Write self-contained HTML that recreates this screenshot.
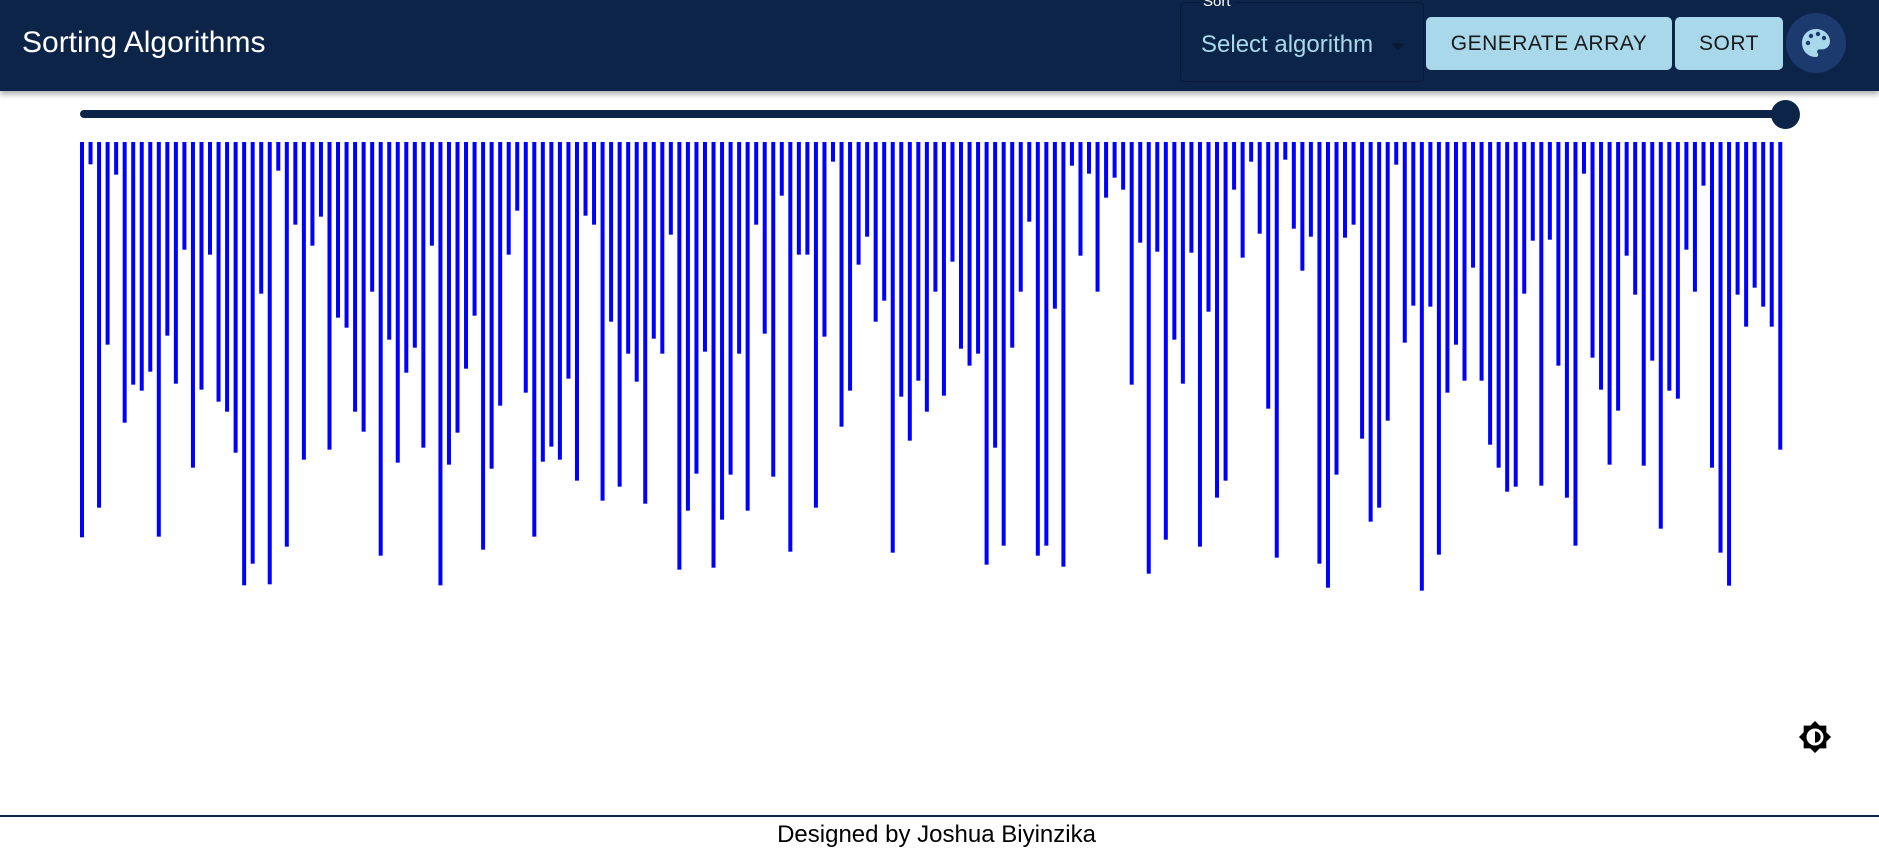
<!DOCTYPE html>
<html><head><meta charset="utf-8"><style>
*{margin:0;padding:0;box-sizing:border-box}
body{width:1879px;height:862px;background:#fff;font-family:"Liberation Sans",sans-serif;position:relative;overflow:hidden}
#hdr{position:absolute;left:0;top:0;width:1879px;height:91px;background:#0d2449;box-shadow:0 3px 6px rgba(0,0,0,.35)}
#title{position:absolute;left:22px;top:26px;color:#fff;font-size:30px}
#sel{position:absolute;left:1180px;top:2px;width:244px;height:80px;border:1px solid #081a36;border-radius:5px}
#sel .lbl{position:absolute;left:18px;top:-10px;color:#fff;font-size:15px;background:#0d2449;padding:0 4px}
#sel .txt{position:absolute;left:20px;top:28px;color:#a8d8ea;font-size:24px}
#sel .arr{position:absolute;left:210px;top:40px;width:0;height:0;border-left:7px solid transparent;border-right:7px solid transparent;border-top:7px solid #081a36}
.btn{position:absolute;top:17px;height:53px;background:#a8d8ea;border-radius:5px;color:#1a1a1a;font-size:21px;display:flex;align-items:center;justify-content:center;letter-spacing:.5px}
#pal{position:absolute;left:1786px;top:13px;width:60px;height:60px;border-radius:50%;background:#1d3a6e}
#slider-track{position:absolute;left:80px;top:110px;width:1705px;height:8px;background:#0d2449;border-radius:4px}
#thumb{position:absolute;left:1771px;top:100px;width:29px;height:29px;border-radius:50%;background:#0d2449}
#footline{position:absolute;left:0;top:815px;width:1879px;height:2px;background:#0d2449}
#foot{position:absolute;left:0;top:821px;width:1873px;text-align:center;font-size:24px;color:#000}
</style></head><body>
<div id="hdr">
<div id="title">Sorting Algorithms</div>
<div id="sel"><span class="lbl">Sort</span><span class="txt">Select algorithm</span><span class="arr"></span></div>
<div class="btn" style="left:1426px;width:246px">GENERATE ARRAY</div>
<div class="btn" style="left:1675px;width:108px">SORT</div>
<div id="pal">
<svg width="60" height="60" viewBox="0 0 60 60"><path d="M30 16c-8 0-14 6-14 14s6 14 14 14c1.4 0 2.3-1 2.3-2.3 0-.6-.2-1.1-.6-1.5-.4-.4-.6-.9-.6-1.5 0-1.3 1-2.300 2.3-2.3h2.7c4.3 0 7.9-3.5 7.9-7.9C44 21.4 37.7 16 30 16z" fill="#a8d8ea"/><circle cx="22" cy="30" r="2.2" fill="#1d3a6e"/><circle cx="25" cy="23" r="2.2" fill="#1d3a6e"/><circle cx="32" cy="21" r="2.2" fill="#1d3a6e"/><circle cx="38" cy="25" r="2.2" fill="#1d3a6e"/></svg></div>
</div>
<div id="slider-track"></div>
<div id="thumb"></div>
<svg id="chart" width="1879" height="862" style="position:absolute;left:0;top:0"></svg>
<svg style="position:absolute;left:1798px;top:720px" width="34" height="34" viewBox="0 0 24 24"><path d="M20 8.69V4h-4.69L12 .69 8.69 4H4v4.69L.69 12 4 15.31V20h4.69L12 23.31 15.31 20H20v-4.69L23.31 12 20 8.69zM12 18c-3.31 0-6-2.69-6-6s2.690-6 6-6 6 2.69 6 6-2.69 6-6 6zm0-10v8c2.21 0 4-1.79 4-4s-1.79-4-4-4z" fill="#000"/></svg>
<div id="footline"></div>
<div id="foot">Designed by Joshua Biyinzika</div>
<script>
const values1 = [1186,67,1097,608,98,842,728,746,689,1184,581,725,323,977,743,338,779,809,932,1330,1265,455,1327,86,1214,248,953,311,224,923,527,557,809,869,449,1241,593,962,692,617,917,311,1330,968,872,680,521,1223,980,791];
const values2 = [338,206,752,1184,959,914,953,710,1016,221,248,1076,539,1034,635,719,1085,590,635,278,1283,1106,995,629,1277,1133,998,635,1106,248,575,1004,161,1229,338,338,1097,584,59,854,746,368,284,539,476,1232,764,896,716,809];
const values3 = [449,761,359,620,671,635,1268,917,1211,617,449,239,1241,1211,500,1274,71,341,95,449,167,107,143,728,302,1295,329,1193,593,725,332,1214,509,1067,1016,143,347,59,275,800,1247,53,260,386,284,1265,1337,998,287,248];
const values4 = [890,1139,1097,836,68,602,491,1346,494,1238,752,608,716,377,716,908,977,1049,1034,455,296,1031,293,671,1067,1211,95,647,743,968,806,341,458,971,656,1160,746,770,323,449,131,977,1232,1331,458,554,437,494,554,923];
const values = values1.concat(values2, values3, values4);
const NS = 'http://www.w3.org/2000/svg';
const svg = document.getElementById('chart');
const x0 = 82, step = 8.534, top0 = 142, barW = 4;
function xScale(i){ return x0 + i*step; }
function yScale(v){ return v/3; }
values.forEach((v,i)=>{
  const r = document.createElementNS(NS,'rect');
  r.setAttribute('x', xScale(i)-barW/2);
  r.setAttribute('y', top0);
  r.setAttribute('width', barW);
  r.setAttribute('height', yScale(v));
  r.setAttribute('fill', '#0000ff');
  
  
  svg.appendChild(r);
});
</script>
</body></html>
